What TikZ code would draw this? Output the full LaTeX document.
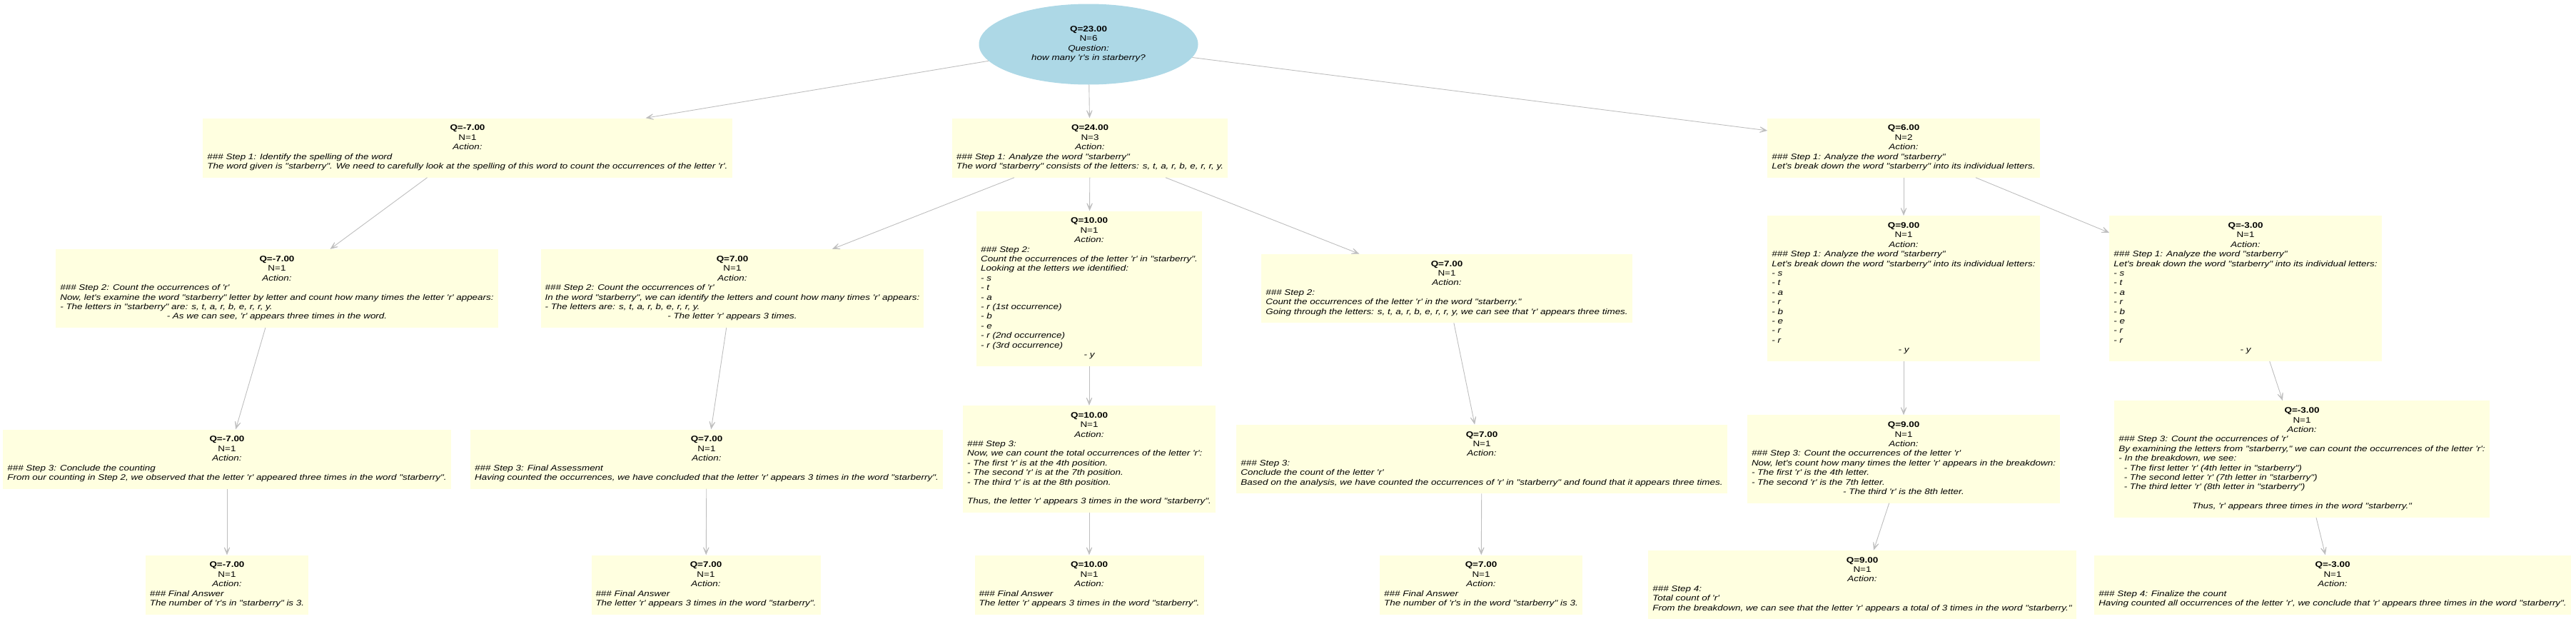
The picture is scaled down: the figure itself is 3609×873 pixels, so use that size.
\documentclass[tikz,border=0pt]{standalone}
\usepackage{fontspec}
\usepackage{array}
\newfontfamily\gvfont{Liberation Sans}[FakeStretch=1.2]
\usetikzlibrary{trees,shapes.geometric,arrows.meta}
\definecolor{rootblue}{HTML}{ADD8E6}
\definecolor{stepyellow}{HTML}{FFFFE0}
\definecolor{edgegray}{HTML}{BEBEBE}
\newcommand{\qhead}[3]{\multicolumn{1}{@{}c@{}}{\bfseries Q=#1}\\\multicolumn{1}{@{}c@{}}{N=#2}\\\multicolumn{1}{@{}c@{}}{\itshape #3:}\\}
\newcommand{\ctr}[1]{\multicolumn{1}{@{}c@{}}{\itshape #1}}
\newcommand{\gvlabel}[4]{\begin{tabular}{@{}>{\itshape}l@{}}\qhead{#1}{#2}{#3}#4\end{tabular}}
\begin{document}
\begin{tikzpicture}[
    edge from parent/.style={draw=edgegray, line width=0.9pt,
        -{Stealth[length=16pt, width=13pt, inset=11pt]}},
    rootnode/.style={ellipse, fill=rootblue, minimum width=307pt,
        minimum height=113pt, inner sep=0pt,
        font=\gvfont\fontsize{11.2}{13.4}\selectfont},
    stepnode/.style={rectangle, fill=stepyellow, inner xsep=6pt, inner ysep=8pt,
        font=\gvfont\fontsize{11.2}{13.4}\selectfont},
    level 1/.style={level distance=145pt},
    level 2/.style={level distance=197pt},
    level 3/.style={level distance=239pt},
    level 4/.style={level distance=176pt},
    sibling distance=0pt
]
\useasboundingbox (0pt,0pt) rectangle (3609pt,-873pt);
\node (Question) [rootnode] at (1525pt,-62pt)
  {\gvlabel{23.00}{6}{Question}{\ctr{how many 'r's in starberry?}}}
  child[xshift=-870pt] {
    node (Step01) [stepnode] {\gvlabel{-7.00}{1}{Action}{%
      \#\#\# Step 1: Identify the spelling of the word\\
      \ctr{The word given is "starberry". We need to carefully look at the spelling of this word to count the occurrences of the letter 'r'.}}}
    child[xshift=-267pt] {
      node (Step02) [stepnode] {\gvlabel{-7.00}{1}{Action}{%
        \#\#\# Step 2: Count the occurrences of 'r'\\
        Now, let's examine the word "starberry" letter by letter and count how many times the letter 'r' appears:\\
        - The letters in "starberry" are: s, t, a, r, b, e, r, r, y.\\
        \ctr{- As we can see, 'r' appears three times in the word.}}}
      child[xshift=-70pt] {
        node (Step03) [stepnode] {\gvlabel{-7.00}{1}{Action}{%
          \#\#\# Step 3: Conclude the counting\\
          \ctr{From our counting in Step 2, we observed that the letter 'r' appeared three times in the word "starberry".}}}
        child {
          node (Step04) [stepnode] {\gvlabel{-7.00}{1}{Action}{%
            \#\#\# Final Answer\\
            \ctr{The number of 'r's in "starberry" is 3.}}}
        }
      }
    }
  }
  child[xshift=2pt] {
    node (Step05) [stepnode] {\gvlabel{24.00}{3}{Action}{%
      \#\#\# Step 1: Analyze the word "starberry"\\
      \ctr{The word "starberry" consists of the letters: s, t, a, r, b, e, r, r, y.}}}
    child[xshift=-501pt] {
      node (Step06) [stepnode] {\gvlabel{7.00}{1}{Action}{%
        \#\#\# Step 2: Count the occurrences of 'r'\\
        In the word "starberry", we can identify the letters and count how many times 'r' appears:\\
        - The letters are: s, t, a, r, b, e, r, r, y.\\
        \ctr{- The letter 'r' appears 3 times.}}}
      child[xshift=-36pt] {
        node (Step07) [stepnode] {\gvlabel{7.00}{1}{Action}{%
          \#\#\# Step 3: Final Assessment\\
          \ctr{Having counted the occurrences, we have concluded that the letter 'r' appears 3 times in the word "starberry".}}}
        child[xshift=-1pt] {
          node (Step08) [stepnode] {\gvlabel{7.00}{1}{Action}{%
            \#\#\# Final Answer\\
            \ctr{The letter 'r' appears 3 times in the word "starberry".}}}
        }
      }
    }
    child[xshift=-1pt] {
      node (Step09) [stepnode] {\gvlabel{10.00}{1}{Action}{%
        \#\#\# Step 2:\\
        Count the occurrences of the letter 'r' in "starberry".\\
        Looking at the letters we identified:\\
        - s\\ - t\\ - a\\ - r (1st occurrence)\\ - b\\ - e\\
        - r (2nd occurrence)\\ - r (3rd occurrence)\\
        \ctr{- y}}}
      child {
        node (Step10) [stepnode] {\gvlabel{10.00}{1}{Action}{%
          \#\#\# Step 3:\\
          Now, we can count the total occurrences of the letter 'r':\\
          - The first 'r' is at the 4th position.\\
          - The second 'r' is at the 7th position.\\
          - The third 'r' is at the 8th position.\\
          \\
          \ctr{Thus, the letter 'r' appears 3 times in the word "starberry".}}}
        child {
          node (Step11) [stepnode] {\gvlabel{10.00}{1}{Action}{%
            \#\#\# Final Answer\\
            \ctr{The letter 'r' appears 3 times in the word "starberry".}}}
        }
      }
    }
    child[xshift=500pt] {
      node (Step12) [stepnode] {\gvlabel{7.00}{1}{Action}{%
        \#\#\# Step 2:\\
        Count the occurrences of the letter 'r' in the word "starberry."\\
        \ctr{Going through the letters: s, t, a, r, b, e, r, r, y, we can see that 'r' appears three times.}}}
      child[xshift=49pt] {
        node (Step13) [stepnode] {\gvlabel{7.00}{1}{Action}{%
          \#\#\# Step 3:\\
          Conclude the count of the letter 'r'\\
          \ctr{Based on the analysis, we have counted the occurrences of 'r' in "starberry" and found that it appears three times.}}}
        child[xshift=-1pt] {
          node (Step14) [stepnode] {\gvlabel{7.00}{1}{Action}{%
            \#\#\# Final Answer\\
            \ctr{The number of 'r's in the word "starberry" is 3.}}}
        }
      }
    }
  }
  child[xshift=1142pt] {
    node (Step15) [stepnode] {\gvlabel{6.00}{2}{Action}{%
      \#\#\# Step 1: Analyze the word "starberry"\\
      \ctr{Let's break down the word "starberry" into its individual letters.}}}
    child {
      node (Step16) [stepnode] {\gvlabel{9.00}{1}{Action}{%
        \#\#\# Step 1: Analyze the word "starberry"\\
        Let's break down the word "starberry" into its individual letters:\\
        - s\\ - t\\ - a\\ - r\\ - b\\ - e\\ - r\\ - r\\
        \ctr{- y}}}
      child {
        node (Step17) [stepnode] {\gvlabel{9.00}{1}{Action}{%
          \#\#\# Step 3: Count the occurrences of the letter 'r'\\
          Now, let's count how many times the letter 'r' appears in the breakdown:\\
          - The first 'r' is the 4th letter.\\
          - The second 'r' is the 7th letter.\\
          \ctr{- The third 'r' is the 8th letter.}}}
        child[xshift=-58pt] {
          node (Step18) [stepnode] {\gvlabel{9.00}{1}{Action}{%
            \#\#\# Step 4:\\
            Total count of 'r'\\
            \ctr{From the breakdown, we can see that the letter 'r' appears a total of 3 times in the word "starberry."}}}
        }
      }
    }
    child[xshift=479pt] {
      node (Step19) [stepnode] {\gvlabel{-3.00}{1}{Action}{%
        \#\#\# Step 1: Analyze the word "starberry"\\
        Let's break down the word "starberry" into its individual letters:\\
        - s\\ - t\\ - a\\ - r\\ - b\\ - e\\ - r\\ - r\\
        \ctr{- y}}}
      child[xshift=79pt] {
        node (Step20) [stepnode] {\gvlabel{-3.00}{1}{Action}{%
          \#\#\# Step 3: Count the occurrences of 'r'\\
          By examining the letters from "starberry," we can count the occurrences of the letter 'r':\\
          - In the breakdown, we see:\\
          \ \ - The first letter 'r' (4th letter in "starberry")\\
          \ \ - The second letter 'r' (7th letter in "starberry")\\
          \ \ - The third letter 'r' (8th letter in "starberry")\\
          \\
          \ctr{Thus, 'r' appears three times in the word "starberry."}}}
        child[xshift=43pt] {
          node (Step21) [stepnode] {\gvlabel{-3.00}{1}{Action}{%
            \#\#\# Step 4: Finalize the count\\
            \ctr{Having counted all occurrences of the letter 'r', we conclude that 'r' appears three times in the word "starberry".}}}
        }
      }
    }
  };
\end{tikzpicture}
\end{document}
